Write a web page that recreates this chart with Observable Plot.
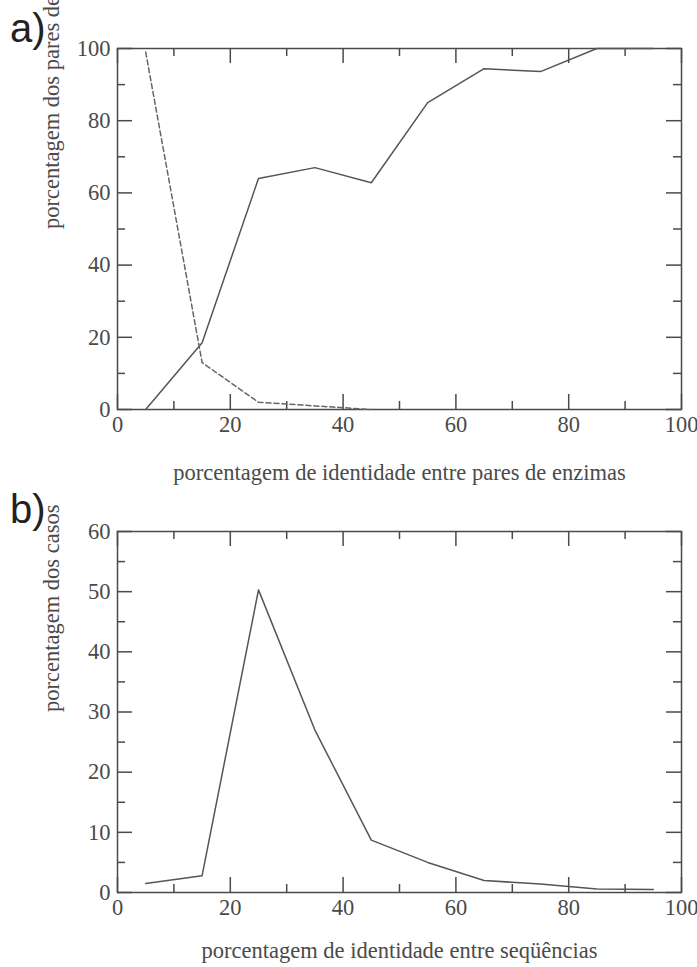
<!DOCTYPE html>
<html>
<head>
<meta charset="utf-8">
<script src="https://cdn.jsdelivr.net/npm/d3@7"></script>
<script src="https://cdn.jsdelivr.net/npm/@observablehq/plot@0.6"></script>
<style>
  html, body { margin: 0; padding: 0; background: #fff; }
  #wrap { position: relative; width: 697px; height: 967px; overflow: hidden; background: #fff; }
  .panel-tag { position: absolute; font-family: "Liberation Sans", Arial, sans-serif; font-size: 40px; line-height: 40px; color: #222; }
  svg { display: block; overflow: visible; }
</style>
</head>
<body>
<div id="wrap">
  <div id="chartA"></div>
  <div id="chartB"></div>
  <div class="panel-tag" style="left:10px; top:8px;">a)</div>
  <div class="panel-tag" style="left:10px; top:489px;">b)</div>
</div>
<script>
// ---- data ----
const identityBins = [5, 15, 25, 35, 45, 55, 65, 75, 85, 95];
const solidA = [0, 18.5, 64, 67, 62.8, 85, 94.4, 93.6, 100, 100];
const dashedBins = [5, 15, 25, 35, 45];
const dashedA = [99, 13, 2, 1, 0];
const casesB = [1.5, 2.8, 50.3, 27, 8.7, 5, 2, 1.4, 0.6, 0.5];

const xMajor = [0, 20, 40, 60, 80, 100];
const xMinor = [10, 30, 50, 70, 90];
const yMajorA = [0, 20, 40, 60, 80, 100];
const yMinorA = [10, 30, 50, 70, 90];
const yMajorB = [0, 10, 20, 30, 40, 50, 60];
const yMinorB = [5, 15, 25, 35, 45, 55];

const xLabelA = "porcentagem de identidade entre pares de enzimas";
const yLabelA = "porcentagem dos pares de enzimas";
const xLabelB = "porcentagem de identidade entre seqüências";
const yLabelB = "porcentagem dos casos";

// ---- layout ----
const W = 697;
const ML = 117, MR = 16;
const INK = "#4a4a4a";
const LINE = "#555";
const TICK_MAJOR = 15, TICK_MINOR = 8;
const frameW = W - ML - MR;

function panelMarks(P, yMajor, yMinor, xLabel, yLabel, xLabelOffset) {
  const frameH = P.height - P.top - P.bottom;
  const st = {stroke: INK, strokeWidth: 1.5};
  return [
    Plot.frame({stroke: INK, strokeWidth: 1.5}),
    // inward ticks hugging the four frame edges
    Plot.ruleX(xMajor, {x: (d) => d, insetTop: frameH - TICK_MAJOR, ...st}),
    Plot.ruleX(xMinor, {x: (d) => d, insetTop: frameH - TICK_MINOR, ...st}),
    Plot.ruleX(xMajor, {x: (d) => d, insetBottom: frameH - TICK_MAJOR, ...st}),
    Plot.ruleX(xMinor, {x: (d) => d, insetBottom: frameH - TICK_MINOR, ...st}),
    Plot.ruleY(yMajor, {y: (d) => d, insetRight: frameW - TICK_MAJOR, ...st}),
    Plot.ruleY(yMinor, {y: (d) => d, insetRight: frameW - TICK_MINOR, ...st}),
    Plot.ruleY(yMajor, {y: (d) => d, insetLeft: frameW - TICK_MAJOR, ...st}),
    Plot.ruleY(yMinor, {y: (d) => d, insetLeft: frameW - TICK_MINOR, ...st}),
    // tick labels
    Plot.axisX(xMajor, {anchor: "bottom", tickSize: 0, tickPadding: 7, label: null, fill: INK}),
    Plot.axisY(yMajor, {anchor: "left", tickSize: 0, tickPadding: 7, label: null, fill: INK}),
    // axis titles
    Plot.text([xLabel], {text: (d) => d, frameAnchor: "bottom", lineAnchor: "bottom", dy: xLabelOffset, fill: INK}),
    Plot.text([yLabel], {text: (d) => d, frameAnchor: "left", lineAnchor: "top", rotate: -90, dx: -74, fill: INK})
  ];
}

function plotOptions(P, yDomain, marks) {
  return {
    width: W,
    height: P.height,
    marginLeft: ML,
    marginRight: MR,
    marginTop: P.top,
    marginBottom: P.bottom,
    style: {fontFamily: "'Liberation Serif', 'Times New Roman', serif", fontSize: "22.5px", color: INK, background: "white", overflow: "visible"},
    x: {domain: [0, 100], axis: null},
    y: {domain: yDomain, axis: null},
    marks
  };
}

// ---- panel a ----
const PA = {height: 490, top: 48, bottom: 81};
const solidRows = identityBins.map((x, i) => ({x, y: solidA[i]}));
const dashedRows = dashedBins.map((x, i) => ({x, y: dashedA[i]}));
const chartA = Plot.plot(plotOptions(PA, [0, 100], [
  ...panelMarks(PA, yMajorA, yMinorA, xLabelA, yLabelA, 70),
  Plot.line(solidRows, {x: "x", y: "y", stroke: LINE, strokeWidth: 1.5}),
  Plot.line(dashedRows, {x: "x", y: "y", stroke: "#666", strokeWidth: 1.5, strokeDasharray: "5,3"})
]));
document.getElementById("chartA").appendChild(chartA);

// ---- panel b ----
const PB = {height: 477, top: 41, bottom: 75};
const caseRows = identityBins.map((x, i) => ({x, y: casesB[i]}));
const chartB = Plot.plot(plotOptions(PB, [0, 60], [
  ...panelMarks(PB, yMajorB, yMinorB, xLabelB, yLabelB, 65),
  Plot.line(caseRows, {x: "x", y: "y", stroke: LINE, strokeWidth: 1.5})
]));
document.getElementById("chartB").appendChild(chartB);
</script>
</body>
</html>
